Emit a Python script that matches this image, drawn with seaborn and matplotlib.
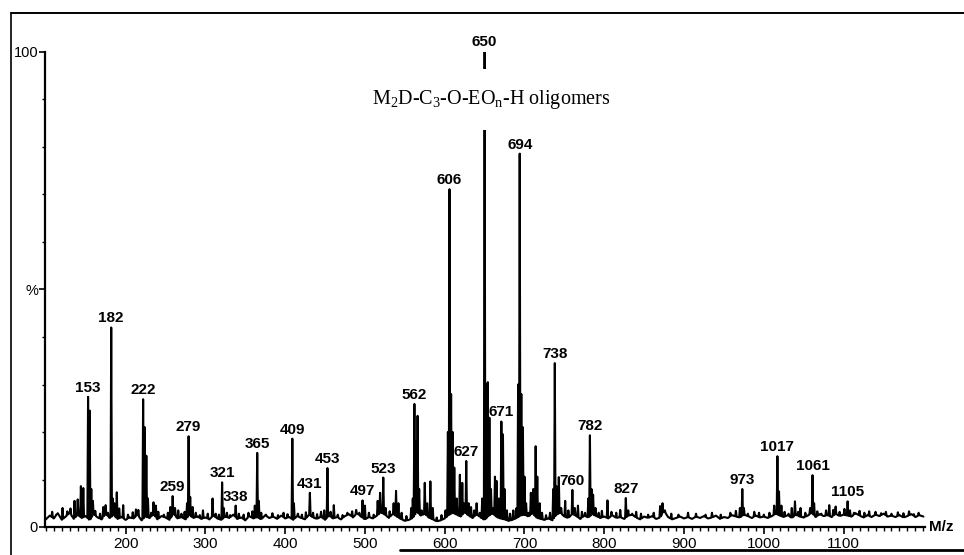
import numpy as np
import pandas as pd
import matplotlib
matplotlib.use("Agg")
import matplotlib.pyplot as plt
from matplotlib.lines import Line2D
from matplotlib.ticker import MultipleLocator
import seaborn as sns

# Baseline intensity (% of base peak), sampled every 5 m/z from 100 to 1200
baseline_start = 100
baseline_step = 5
baseline_pct = [
    1.6, 2.4, 1.8, 2.9, 1.5, 2.2, 3.0, 1.7, 2.6, 1.9, 2.3, 1.4, 2.7, 2.0, 1.6, 2.8, 1.9, 2.5, 1.7, 2.1,
    1.5, 2.0, 1.8, 2.6, 1.4, 2.2, 1.9, 2.7, 1.6, 2.3, 2.0, 1.5, 2.8, 1.8, 2.1, 1.6, 2.5, 1.9, 2.2, 1.7,
    2.0, 1.6, 2.4, 1.8, 1.5, 2.2, 1.9, 2.6, 1.7, 2.0, 1.4, 2.3, 1.8, 2.1, 1.6, 2.5, 1.9, 2.2, 1.7, 2.4,
    1.8, 2.1, 1.5, 2.3, 1.9, 1.6, 2.6, 2.0, 1.7, 2.2, 1.5, 2.4, 1.8, 2.1, 1.6, 2.3, 2.7, 2.0, 2.9, 2.2,
    1.6, 2.1, 1.8, 2.4, 3.1, 2.6, 1.9, 2.8, 2.2, 1.7, 1.3, 1.5, 1.9, 3.2, 2.4, 2.8, 2.0, 1.6, 1.2, 1.4,
    1.8, 2.5, 3.0, 2.6, 2.2, 3.1, 2.4, 1.9, 2.7, 2.0, 1.5, 2.3, 2.9, 2.1, 1.8, 1.6, 1.3, 1.5, 1.9, 2.4,
    2.6, 2.2, 2.9, 2.0, 1.7, 1.5, 1.8, 1.4, 2.6, 3.0, 2.2, 1.9, 2.8, 2.3, 1.7, 2.4, 2.0, 2.7, 2.3, 1.9,
    2.2, 1.8, 2.5, 1.9, 2.1, 1.7, 2.4, 2.6, 2.0, 1.6, 2.2, 1.9, 2.3, 1.7, 2.0, 3.4, 2.1, 1.6, 1.9, 2.2,
    1.8, 2.1, 1.7, 2.2, 1.9, 2.3, 1.8, 2.0, 2.4, 1.7, 2.1, 1.9, 2.5, 2.2, 2.0, 2.6, 2.3, 1.9, 2.4, 2.0,
    2.2, 1.9, 2.3, 2.8, 2.4, 2.1, 2.5, 1.9, 2.6, 2.2, 2.0, 2.4, 3.0, 2.1, 2.7, 2.3, 2.5, 2.1, 2.8, 2.3,
    2.6, 2.4, 2.2, 2.9, 2.4, 2.0, 2.5, 2.1, 2.6, 2.3, 2.8, 2.2, 2.4, 2.1, 2.5, 2.0, 2.3, 2.7, 2.1, 2.5,
    2.2,
]

# Centroided ions: m/z and relative intensity (%)
peak_mz = [
    108, 113, 121, 127, 131, 136, 140, 144, 147,
    153, 155, 157, 159, 162, 168, 172, 175, 178,
    182, 184, 186, 189, 192, 197, 203, 209, 213, 216,
    222, 224, 226, 228, 232, 235, 238, 241, 248, 253, 256,
    259, 262, 266, 270, 274, 277, 279, 281, 284, 288, 293, 297, 303,
    309, 313, 317, 321, 323, 327, 331, 338, 342, 348, 354, 359,
    362, 365, 367, 370, 376, 384, 391, 398, 403,
    409, 411, 416, 421, 426, 431, 435, 440, 445, 449, 453, 457, 461, 466, 472, 478, 484, 489, 493,
    497, 500, 505, 511, 516, 519, 523, 526, 531, 536, 539, 542, 546, 552, 558, 560,
    562, 564, 566, 568, 571, 575, 578, 582, 585, 590, 596, 601,
    604, 606, 608, 610, 612, 615, 619, 622, 624, 627, 630, 633, 637, 640, 644, 647,
    650, 652, 654, 656, 658, 660, 663, 665, 668, 671, 673, 675, 678, 682, 686, 690,
    692, 694, 696, 698, 700, 702, 705, 708, 711, 714, 716, 719, 722, 727, 732,
    736, 738, 740, 743, 746, 751, 755, 760, 763, 767, 772, 776,
    780, 782, 784, 786, 789, 793, 797, 804, 809, 815, 820, 827, 830, 835, 840, 846,
    855, 862, 870, 873, 876, 884, 893, 905, 915, 927, 935, 946, 958, 965, 970,
    973, 975, 980, 988, 994, 1000, 1007, 1013, 1017, 1019, 1022, 1026, 1031, 1035, 1039, 1043, 1046, 1052,
    1058, 1061, 1063, 1067, 1072, 1078, 1082, 1087, 1090, 1095, 1101, 1105, 1108, 1113, 1120, 1126,
    1132, 1140, 1147, 1153, 1160, 1168, 1175, 1182, 1188, 1194,
]
peak_pct = [
    3.2, 2.6, 4.0, 3.3, 3.9, 5.5, 5.8, 8.6, 8.2,
    27.4, 24.5, 8.0, 5.5, 3.4, 2.8, 4.2, 4.6, 3.0,
    42.0, 6.0, 5.0, 7.3, 3.9, 4.6, 2.6, 3.1, 3.7, 3.6,
    26.9, 21.0, 15.0, 6.0, 3.0, 5.2, 4.5, 3.2, 2.6, 3.0, 4.2,
    6.5, 4.0, 3.5, 2.8, 3.2, 5.0, 19.1, 6.3, 4.2, 3.0, 2.5, 3.5, 2.8,
    6.0, 2.8, 2.6, 9.4, 4.0, 3.0, 2.5, 4.5, 2.8, 2.6, 3.0, 3.3,
    4.5, 15.6, 5.5, 3.0, 2.6, 2.9, 2.5, 3.0, 2.7,
    18.6, 5.0, 2.8, 2.6, 3.1, 7.2, 3.0, 2.7, 3.2, 3.5, 12.4, 3.2, 4.6, 2.6, 2.5, 3.0, 3.3, 3.6, 3.0,
    5.6, 4.5, 3.0, 2.6, 5.5, 7.2, 10.4, 4.0, 3.3, 5.0, 7.6, 5.0, 3.0, 2.3, 4.0, 6.0,
    25.9, 18.0, 23.4, 8.0, 3.5, 9.3, 5.0, 9.6, 4.0, 2.0, 2.5, 3.5,
    20.0, 71.1, 28.0, 20.0, 12.5, 6.0, 11.0, 9.3, 5.0, 13.9, 5.0, 4.2, 3.5, 5.0, 3.0, 6.0,
    100.0, 30.0, 30.5, 23.0, 8.0, 4.0, 10.6, 9.7, 6.0, 22.2, 19.5, 8.0, 3.5, 2.8, 3.5, 4.0,
    30.0, 78.6, 28.0, 21.0, 10.6, 5.0, 3.0, 7.2, 8.0, 17.0, 10.6, 5.0, 3.0, 2.5, 3.0,
    8.0, 34.5, 8.6, 10.5, 4.0, 5.5, 3.5, 7.8, 4.0, 4.5, 3.2, 3.0,
    6.0, 19.3, 8.0, 6.8, 4.0, 3.0, 3.4, 5.6, 3.2, 3.0, 3.6, 6.1, 3.5, 2.8, 3.2, 2.8,
    2.6, 3.0, 4.4, 5.0, 3.5, 2.8, 2.6, 3.0, 2.8, 2.6, 3.0, 2.6, 3.0, 3.4, 4.0,
    8.0, 4.0, 2.8, 3.2, 3.0, 2.6, 3.0, 4.5, 14.9, 7.5, 4.5, 3.2, 2.8, 4.0, 5.4, 3.2, 4.0, 3.0,
    4.0, 10.9, 5.0, 3.3, 2.8, 3.5, 4.6, 3.6, 4.3, 3.2, 3.8, 5.4, 3.5, 3.0, 3.4, 3.0,
    3.3, 3.2, 2.9, 3.2, 2.8, 3.1, 2.9, 3.3, 2.7, 3.0,
]

# Ions annotated with their m/z
labelled_mz = [153, 182, 222, 259, 279, 321, 338, 365, 409, 431, 453, 497, 523,
               562, 606, 627, 671, 694, 738, 760, 782, 827, 973, 1017, 1061, 1105]
base_peak_mz = 650
series_name = "M$_2$D-C$_3$-O-EO$_\\mathrm{n}$-H oligomers"

x_ticks = [200, 300, 400, 500, 600, 700, 800, 900, 1000, 1100]
y_ticks = [0, 50, 100]
y_tick_labels = ["0", "%", "100"]

# ---- build the profile trace: narrow triangles on a noisy baseline ----
bl_mz = baseline_start + baseline_step * np.arange(len(baseline_pct))
bl_pct = np.array(baseline_pct, dtype=float)
pm = np.array(peak_mz, dtype=float)
ph = np.array(peak_pct, dtype=float)
half = 0.9
keep = np.array([np.min(np.abs(pm - m)) > 1.3 for m in bl_mz])
xs = np.concatenate([bl_mz[keep], pm - half, pm, pm + half])
ys = np.concatenate([bl_pct[keep], np.interp(pm - half, bl_mz, bl_pct), ph,
                     np.interp(pm + half, bl_mz, bl_pct)])
order = np.argsort(xs, kind="stable")
trace = pd.DataFrame({"mz": xs[order], "pct": ys[order]})

# ---- figure ----
sns.set_theme(style="ticks")
plt.rcParams["font.family"] = ["Liberation Sans", "DejaVu Sans"]
plt.rcParams["mathtext.fontset"] = "custom"
plt.rcParams["mathtext.rm"] = "Liberation Serif"
plt.rcParams["mathtext.it"] = "Liberation Serif:italic"
plt.rcParams["path.simplify"] = False

W, H = 964, 555
fig = plt.figure(figsize=(W / 100, H / 100), dpi=100)
fig.patch.set_facecolor("white")
ax = fig.add_axes([45 / W, 1 - 527 / H, 880 / W, 475 / H])
ax.set_facecolor("white")

sns.lineplot(data=trace, x="mz", y="pct", sort=False, estimator=None,
             color="black", linewidth=1.5, ax=ax)
for ln in ax.get_lines():
    ln.set_solid_joinstyle("round")
    ln.set_solid_capstyle("round")

ax.set_xlim(99, 1202)
ax.set_ylim(0, 100)
ax.set_xlabel("")
ax.set_ylabel("")
for side in ("top", "right"):
    ax.spines[side].set_visible(False)
for side in ("left", "bottom"):
    ax.spines[side].set_color("black")
    ax.spines[side].set_linewidth(1.6)

ax.set_xticks(x_ticks)
ax.set_xticklabels([str(t) for t in x_ticks])
ax.xaxis.set_minor_locator(MultipleLocator(10))
ax.set_yticks(y_ticks)
ax.set_yticklabels(y_tick_labels)
ax.yaxis.set_minor_locator(MultipleLocator(10))
ax.tick_params(axis="x", which="major", direction="out", length=5, width=1.2,
               color="black", labelsize=11, pad=2, labelcolor="black")
ax.tick_params(axis="x", which="minor", direction="out", length=3, width=1.0, color="black")
ax.tick_params(axis="y", which="major", direction="out", length=4, width=1.2,
               color="black", labelsize=10.5, pad=1, labelcolor="black")
ax.tick_params(axis="y", which="minor", direction="out", length=2, width=1.0, color="black")

# peak labels
for m in labelled_mz:
    h = peak_pct[peak_mz.index(m)]
    ax.annotate(str(m), (m, h), xytext=(0, 1.5), textcoords="offset points",
                ha="center", va="bottom", fontsize=11, fontweight="bold",
                color="black", annotation_clip=False)

ax.annotate(str(base_peak_mz), (base_peak_mz, peak_pct[peak_mz.index(base_peak_mz)]),
            xytext=(0, 2.5), textcoords="offset points", ha="center", va="bottom",
            fontsize=11, fontweight="bold", color="black", annotation_clip=False)

ax.text(658, 90.0, series_name, ha="center", va="center", fontsize=14.5,
        family="Liberation Serif", color="black", zorder=5,
        bbox=dict(boxstyle="square,pad=0.95", fc="white", ec="none"))

fig.text(929 / W, 1 - 527 / H, "M/z", ha="left", va="center", fontsize=11,
         fontweight="bold", color="black")

# outer frame
fig.add_artist(Line2D([11 / W, 11 / W], [0, 1 - 13 / H], transform=fig.transFigure,
                      color="black", linewidth=1.2))
fig.add_artist(Line2D([11 / W, 1], [1 - 13 / H, 1 - 13 / H], transform=fig.transFigure,
                      color="black", linewidth=1.4))
fig.add_artist(Line2D([400 / W, 1], [1 - 550 / H, 1 - 550 / H], transform=fig.transFigure,
                      color="black", linewidth=2.0))

fig.savefig("out.png", dpi=100, facecolor="white")
